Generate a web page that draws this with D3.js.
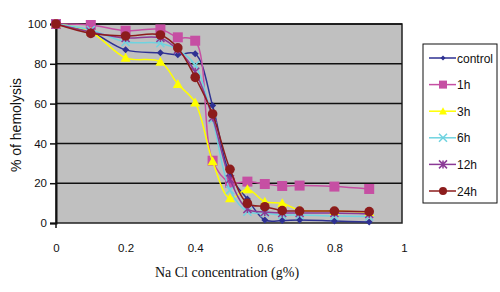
<!DOCTYPE html>
<html><head><meta charset="utf-8">
<script src="https://cdn.jsdelivr.net/npm/d3@7/dist/d3.min.js"></script>
<style>body{margin:0;background:#fff}</style>
</head><body>
<svg id="c" width="500" height="292"></svg>
<script>
const concentrations = [0, 0.1, 0.2, 0.3, 0.35, 0.4, 0.45, 0.5, 0.55, 0.6, 0.65, 0.7, 0.8, 0.9];
const control = [100, 96, 87, 85.5, 84.5, 85, 59, 24, 12, 1.5, 1.2, 1.5, 1, 0.5];
const h1 = [100, 99.5, 96.6, 97.3, 93.3, 91.6, 31.3, 20.3, 20.8, 19.6, 18.6, 18.8, 18.3, 17.1];
const h3 = [100, 96, 83, 81, 69.8, 60.5, 31, 12.4, 17, 10.7, 9.9, 6.5, 6, 5.5];
const h6 = [100, 97, 91, 90.3, 87, 79.4, 52, 16.6, 5.7, 5, 4, 4, 3.5, 3.3];
const h12 = [100, 96, 93, 93, 87, 76, 53, 22, 7, 5.5, 5, 5, 5, 4.5];
const h24 = [100, 95.3, 94, 94.5, 88, 73.2, 54.8, 27, 9.9, 8.2, 6.2, 6, 6, 5.7];
const seriesNames = ["control", "1h", "3h", "6h", "12h", "24h"];
const xTicks = [0, 0.2, 0.4, 0.6, 0.8, 1];
const yTicks = [0, 20, 40, 60, 80, 100];

const seriesValues = [control, h1, h3, h6, h12, h24];
const colors = ["#2E3192", "#C64FA3", "#FFFF00", "#6FD3E0", "#8B3A96", "#8C1C1C"];
const markers = ["diamond", "square", "triangle", "x", "star", "circle"];

const svg = d3.select("#c");
const L = 56, R = 402, T = 24, B = 223;
const x = d3.scaleLinear().domain([0, 1]).range([L, L + 348]);
const y = d3.scaleLinear().domain([0, 100]).range([B, T]);

svg.append("rect").attr("x", L).attr("y", T).attr("width", R - L).attr("height", B - T)
  .attr("fill", "#C0C0C0").attr("stroke", "#222").attr("stroke-width", 1.5);

// gridlines
svg.append("g").selectAll("line").data(yTicks.filter(d => d > 0)).join("line")
  .attr("x1", L).attr("x2", R).attr("y1", d => y(d)).attr("y2", d => y(d))
  .attr("stroke", "#111").attr("stroke-width", 1.5);

// axes
const yAxis = svg.append("g").attr("transform", `translate(${L},0)`)
  .call(d3.axisLeft(y).tickValues(yTicks).tickSize(6).tickPadding(3));
const xAxis = svg.append("g").attr("transform", `translate(0,${B})`)
  .call(d3.axisBottom(x).tickValues(xTicks).tickSize(0).tickPadding(21).tickFormat(d3.format("")));
[yAxis, xAxis].forEach(a => {
  a.selectAll("path").attr("stroke", "#111").attr("stroke-width", 2);
  a.selectAll("line").attr("stroke", "#111").attr("stroke-width", 1.5);
  a.selectAll("text").attr("font-family", "Liberation Sans, Arial, sans-serif")
    .attr("font-size", 11.5).attr("fill", "#111");
});
xAxis.select("path").remove();
svg.append("line").attr("x1", L).attr("x2", L).attr("y1", B).attr("y2", B + 5)
  .attr("stroke", "#111").attr("stroke-width", 1.5);

const line = d3.line().x(d => x(d[0])).y(d => y(d[1])).curve(d3.curveCatmullRom.alpha(0.5));

function drawMarker(g, type, cx, cy, color, s) {
  if (type === "diamond") {
    g.append("path").attr("d", `M${cx},${cy - s}L${cx + s},${cy}L${cx},${cy + s}L${cx - s},${cy}Z`).attr("fill", color);
  } else if (type === "square") {
    g.append("rect").attr("x", cx - s).attr("y", cy - s).attr("width", 2 * s).attr("height", 2 * s).attr("fill", color);
  } else if (type === "triangle") {
    g.append("path").attr("d", `M${cx},${cy - s}L${cx + s},${cy + s * 0.8}L${cx - s},${cy + s * 0.8}Z`).attr("fill", color);
  } else if (type === "circle") {
    g.append("circle").attr("cx", cx).attr("cy", cy).attr("r", s).attr("fill", color);
  } else if (type === "x") {
    g.append("path").attr("d", `M${cx - s},${cy - s}L${cx + s},${cy + s}M${cx - s},${cy + s}L${cx + s},${cy - s}`)
      .attr("stroke", color).attr("stroke-width", 1.5);
  } else if (type === "star") {
    g.append("path").attr("d", `M${cx - s},${cy - s}L${cx + s},${cy + s}M${cx - s},${cy + s}L${cx + s},${cy - s}M${cx},${cy - s}L${cx},${cy + s}`)
      .attr("stroke", color).attr("stroke-width", 1.5);
  }
}
const sizes = [3.5, 5, 5, 4, 4, 4.8];

seriesValues.forEach((vals, i) => {
  const pts = concentrations.map((c, j) => [c, vals[j]]);
  const g = svg.append("g");
  g.append("path").attr("d", line(pts)).attr("fill", "none").attr("stroke", colors[i]).attr("stroke-width", 1.5);
  pts.forEach(p => drawMarker(g, markers[i], x(p[0]), y(p[1]), colors[i], sizes[i]));
});

// legend
const lg = svg.append("g");
lg.append("rect").attr("x", 423).attr("y", 44).attr("width", 74).attr("height", 159)
  .attr("fill", "#fff").attr("stroke", "#111").attr("stroke-width", 1);
seriesNames.forEach((n, i) => {
  const yy = 58 + i * 26.6;
  lg.append("line").attr("x1", 429).attr("x2", 456).attr("y1", yy).attr("y2", yy)
    .attr("stroke", colors[i]).attr("stroke-width", 1.5);
  drawMarker(lg, markers[i], 443, yy, colors[i], [2.5, 4, 4, 4, 4, 4][i]);
  lg.append("text").attr("x", 457).attr("y", yy + 4.5).text(n)
    .attr("font-family", "Liberation Sans, Arial, sans-serif").attr("font-size", 12).attr("fill", "#111");
});

svg.append("text").attr("transform", "translate(21,125) rotate(-90)").attr("text-anchor", "middle")
  .attr("font-family", "Liberation Sans, Arial, sans-serif").attr("font-size", 14).attr("fill", "#111")
  .text("% of hemolysis");
svg.append("text").attr("x", 227).attr("y", 277).attr("text-anchor", "middle")
  .attr("font-family", "Liberation Serif, Times New Roman, serif").attr("font-size", 14).attr("fill", "#111")
  .text("Na Cl concentration (g%)");
</script>
</body></html>
